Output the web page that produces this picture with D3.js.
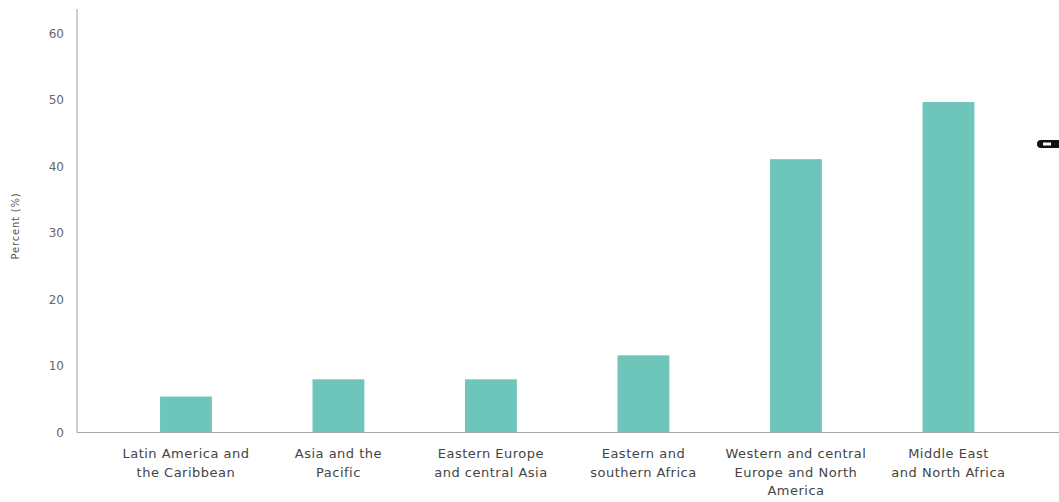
<!DOCTYPE html>
<html>
<head>
<meta charset="utf-8">
<script src="https://d3js.org/d3.v7.min.js"></script>
<style>
  body { margin: 0; background: #fff; }
  svg { display: block; }
  text { font-family: "DejaVu Sans", sans-serif; }
</style>
</head>
<body>
<div id="chartHere"></div>
<script>

// data
var regions = [
  "Latin America and\nthe Caribbean",
  "Asia and the\nPacific",
  "Eastern Europe\nand central Asia",
  "Eastern and\nsouthern Africa",
  "Western and central\nEurope and North\nAmerica",
  "Middle East\nand North Africa"
];
var percents = [5.4, 8.0, 8.0, 11.6, 41.1, 49.7];
var yTicks = [0, 10, 20, 30, 40, 50, 60];
var yTitle = "Percent (%)";

var dims = {"width": 1059, "height": 502};
var axisX = 77, baseY = 432.5, topY = 9;

var svg = d3.select("#chartHere").append("svg")
    .attr("width", dims.width)
    .attr("height", dims.height);

var y = d3.scaleLinear()
    .domain([0, 60])
    .range([baseY, 33.5]);

var x = d3.scaleBand()
    .domain(regions)
    .range([109.7, 1024.7])
    .paddingInner(0.66)
    .paddingOuter(0.33);

// bars
svg.selectAll("rect.bar")
    .data(percents).enter().append("rect")
    .attr("class", "bar")
    .attr("x", function (d, i) { return x(regions[i]); })
    .attr("width", x.bandwidth())
    .attr("y", function (d) { return y(d); })
    .attr("height", function (d) { return baseY - y(d); })
    .attr("fill", "#6ec6bb");

// y axis: only the line + labels
var yAxis = d3.axisLeft(y).tickValues(yTicks).tickSize(0).tickPadding(13);
var gy = svg.append("g")
    .attr("transform", "translate(" + axisX + ",0)")
    .call(yAxis);
gy.select(".domain").remove();
gy.selectAll("text")
    .attr("font-size", 12)
    .attr("fill", "#666")
    .style("font-family", "DejaVu Sans, sans-serif");

svg.append("line")
    .attr("x1", axisX).attr("x2", axisX)
    .attr("y1", topY).attr("y2", baseY)
    .attr("stroke", "#b0b0b0").attr("stroke-width", 1.2);

// x axis line runs to the edge
svg.append("line")
    .attr("x1", axisX).attr("x2", dims.width)
    .attr("y1", baseY).attr("y2", baseY)
    .attr("stroke", "#a8a8a8").attr("stroke-width", 1.2);

// category labels
var lbl = svg.selectAll("text.cat")
    .data(regions).enter().append("text")
    .attr("class", "cat")
    .attr("text-anchor", "middle")
    .attr("font-size", 13)
    .attr("letter-spacing", 0.5)
    .attr("fill", "#444")
    .attr("x", function (d) { return x(d) + x.bandwidth() / 2; })
    .attr("y", 458);
lbl.selectAll("tspan")
    .data(function (d) { return d.split("\n"); })
    .enter().append("tspan")
    .attr("x", function () { return d3.select(this.parentNode).attr("x"); })
    .attr("dy", function (d, i) { return i === 0 ? 0 : 18.5; })
    .text(function (d) { return d; });

// y title
svg.append("text")
    .attr("transform", "translate(19," + 226 + ") rotate(-90)")
    .attr("text-anchor", "middle")
    .attr("font-size", 10)
    .attr("letter-spacing", 0.8)
    .attr("fill", "#555")
    .text(yTitle);

// clipped marker at the right edge
svg.append("rect")
    .attr("x", 1037).attr("y", 140)
    .attr("width", 30).attr("height", 8)
    .attr("rx", 4)
    .attr("fill", "#111");
svg.append("rect")
    .attr("x", 1043).attr("y", 142.5)
    .attr("width", 8).attr("height", 3)
    .attr("fill", "#fff");

</script>
</body>
</html>
